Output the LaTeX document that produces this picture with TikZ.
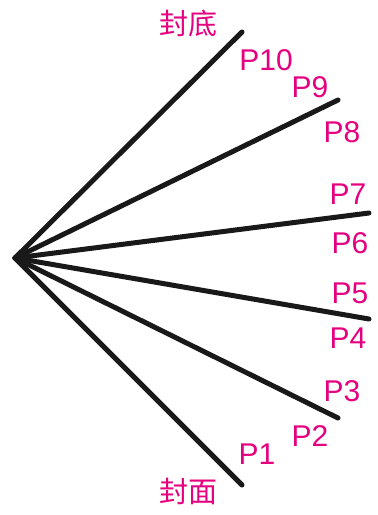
\documentclass[tikz,border=0pt]{standalone}
\usepackage{fontspec}
\setmainfont{Liberation Sans}
\newfontfamily\cjkfont{Noto Sans CJK SC}
\definecolor{labelmag}{HTML}{E4007F}
\begin{document}
\begin{tikzpicture}[x=1pt,y=-1pt,
  leaf/.style={line width=5pt,line cap=round,draw=black!90},
  plabel/.style={text=labelmag,font=\fontsize{30}{30}\selectfont,inner sep=0pt,anchor=base},
  clabel/.style={text=labelmag,font=\cjkfont\fontsize{29}{29}\selectfont,inner sep=0pt}]
\useasboundingbox (0,0) rectangle (378,515);
\coordinate (apex) at (15,258);
\coordinate (e1) at (242,32);
\coordinate (e2) at (338,100);
\coordinate (e3) at (369,213);
\coordinate (e4) at (369,319);
\coordinate (e5) at (338,418);
\coordinate (e6) at (242,485);
\foreach \e in {e1,e2,e3,e4,e5,e6}{\draw[leaf] (apex) -- (\e);}
\node[clabel] (back) at (188,23) {封底};
\node[clabel] (front) at (188,491) {封面};
\node[plabel] (p10) at (266,70) {P10};
\node[plabel] (p9) at (310,97) {P9};
\node[plabel] (p8) at (342,142) {P8};
\node[plabel] (p7) at (348,204) {P7};
\node[plabel] (p6) at (350,253) {P6};
\node[plabel] (p5) at (350,303) {P5};
\node[plabel] (p4) at (348,348) {P4};
\node[plabel] (p3) at (342,401) {P3};
\node[plabel] (p2) at (310,446) {P2};
\node[plabel] (p1) at (257,464) {P1};
\end{tikzpicture}
\end{document}
